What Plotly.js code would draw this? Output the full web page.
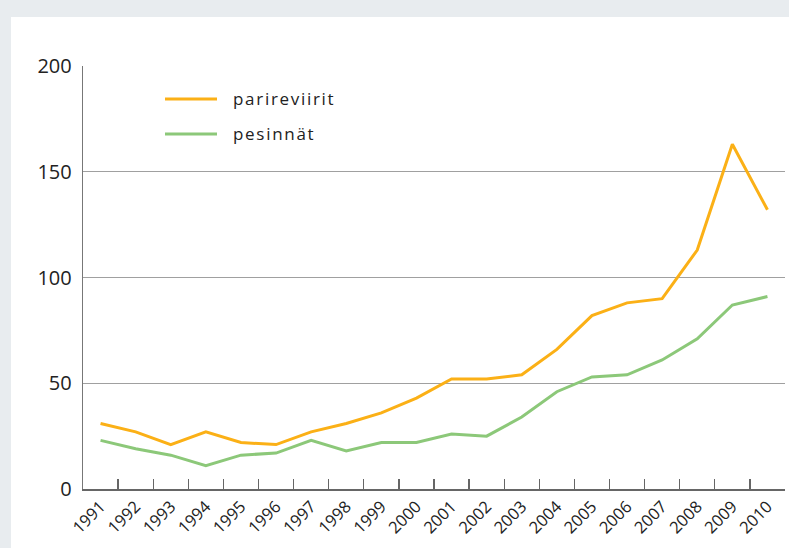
<!DOCTYPE html>
<html>
<head>
<meta charset="utf-8">
<script src="https://cdn.plot.ly/plotly-3.0.1.min.js"></script>
<style>html,body{margin:0;padding:0;background:#e8ecef;}#chart{width:789px;height:548px;}</style>
</head>
<body>
<div id="chart"></div>
<script>
const years = ['1991','1992','1993','1994','1995','1996','1997','1998','1999','2000','2001','2002','2003','2004','2005','2006','2007','2008','2009','2010'];
const parireviirit = [31, 27, 21, 27, 22, 21, 27, 31, 36, 43, 52, 52, 54, 66, 82, 88, 90, 113, 163, 132];
const pesinnat = [23, 19, 16, 11, 16, 17, 23, 18, 22, 22, 26, 25, 34, 46, 53, 54, 61, 71, 87, 91];
const seriesNames = ['parireviirit', 'pesinnät'];
const colors = ['#FBB016', '#8CC879'];

const W = 789, H = 548, L = 83, R = 4, T = 66, B = 59;
const pw = W - L - R, ph = H - T - B;
const px = v => (v - L) / pw;
const py = v => (H - B - v) / ph;

const traces = [parireviirit, pesinnat].map((vals, i) => ({
  type: 'scatter', mode: 'lines', x: years, y: vals, name: seriesNames[i],
  line: {color: colors[i], width: 3}, showlegend: false, hoverinfo: 'x+y'
}));

const legendY = [99, 134];
const shapes = [{
  type: 'rect', xref: 'paper', yref: 'paper', layer: 'below',
  x0: px(11), x1: px(800), y0: py(560), y1: py(17),
  fillcolor: '#ffffff', line: {width: 0}
}];
const annotations = [];
seriesNames.forEach((n, i) => {
  shapes.push({type: 'line', xref: 'paper', yref: 'paper', x0: px(165), x1: px(217),
    y0: py(legendY[i]), y1: py(legendY[i]), line: {color: colors[i], width: 3}});
  annotations.push({xref: 'paper', yref: 'paper', x: px(231), y: py(legendY[i] - 1),
    xanchor: 'left', yanchor: 'middle', showarrow: false, text: n.split('').join('\u200A'),
    font: {family: 'Open Sans', size: 17, color: '#222'}});
});

const layout = {
  width: W, height: H,
  margin: {l: L, r: R, t: T, b: B, pad: 0},
  paper_bgcolor: '#e8ecef', plot_bgcolor: 'rgba(0,0,0,0)',
  font: {family: 'Open Sans', color: '#222'},
  xaxis: {
    type: 'category', range: [-0.5, 19.5], tickson: 'boundaries',
    ticks: 'inside', ticklen: 10, tickwidth: 1.3, tickcolor: '#666',
    showline: true, linecolor: '#666', linewidth: 1.5, showgrid: false,
    tickangle: -45, tickfont: {size: 16.5, color: '#222'}, fixedrange: true
  },
  yaxis: {
    range: [0, 200], dtick: 50, tick0: 0, showgrid: true, gridcolor: '#a0a0a0', gridwidth: 1.2,
    zeroline: false, showline: true, linecolor: '#777', linewidth: 1.3,
    ticks: '', ticklabelstandoff: 6, tickfont: {size: 20, color: '#222'}, fixedrange: true
  },
  shapes: shapes,
  annotations: annotations
};

Plotly.newPlot('chart', traces, layout, {displayModeBar: false, staticPlot: true});
</script>
</body>
</html>
